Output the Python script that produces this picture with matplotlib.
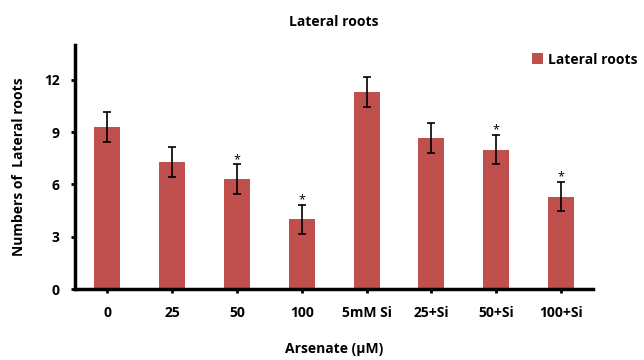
import matplotlib.pyplot as plt

# Data
categories = ["0", "25", "50", "100", "5mM Si", "25+Si", "50+Si", "100+Si"]
values = [9.3, 7.3, 6.3, 4.0, 11.3, 8.65, 8.0, 5.3]
errors = [0.85, 0.85, 0.85, 0.85, 0.85, 0.85, 0.85, 0.85]
significant = [False, False, True, True, False, False, True, True]

plt.rcParams['font.family'] = ['Open Sans', 'DejaVu Sans']
plt.rcParams['font.weight'] = 'bold'

fig = plt.figure(figsize=(6.44, 3.6), dpi=100)
ax = fig.add_axes([0.1165, 0.197, 0.805, 0.678])

x = range(len(categories))
ax.bar(x, values, width=0.4, color='#C0504D', label='Lateral roots',
       yerr=errors, capsize=3, error_kw=dict(elinewidth=1.2, capthick=1.2, ecolor='black'))

# significance marks
for i, (v, e, s) in enumerate(zip(values, errors, significant)):
    if s:
        ax.text(i, v + e - 0.1, '*', ha='center', va='bottom', fontsize=9, fontweight='normal')

ax.set_xlim(-0.5, 7.5)
ax.set_ylim(0, 14)
ax.set_yticks([0, 3, 6, 9, 12])
ax.set_xticks(list(x))
ax.set_xticklabels(categories)
ax.tick_params(axis='both', labelsize=10, width=2, length=3)
ax.tick_params(axis='x', pad=9)
ax.tick_params(axis='y', pad=8)

for side in ['top', 'right']:
    ax.spines[side].set_visible(False)
for side in ['left', 'bottom']:
    ax.spines[side].set_linewidth(2.5)

ax.set_title("Lateral roots", fontsize=10, fontweight='bold', pad=14)
ax.set_xlabel("Arsenate (µM)", fontsize=10, fontweight='bold', labelpad=16)
ax.set_ylabel("Numbers of  Lateral roots", fontsize=10, fontweight='bold', labelpad=13)

ax.legend(loc='upper right', bbox_to_anchor=(1.11, 1.02), frameon=False, fontsize=10,
          handlelength=0.8, handleheight=0.8, handletextpad=0.4)

fig.savefig("out.png", dpi=100)
